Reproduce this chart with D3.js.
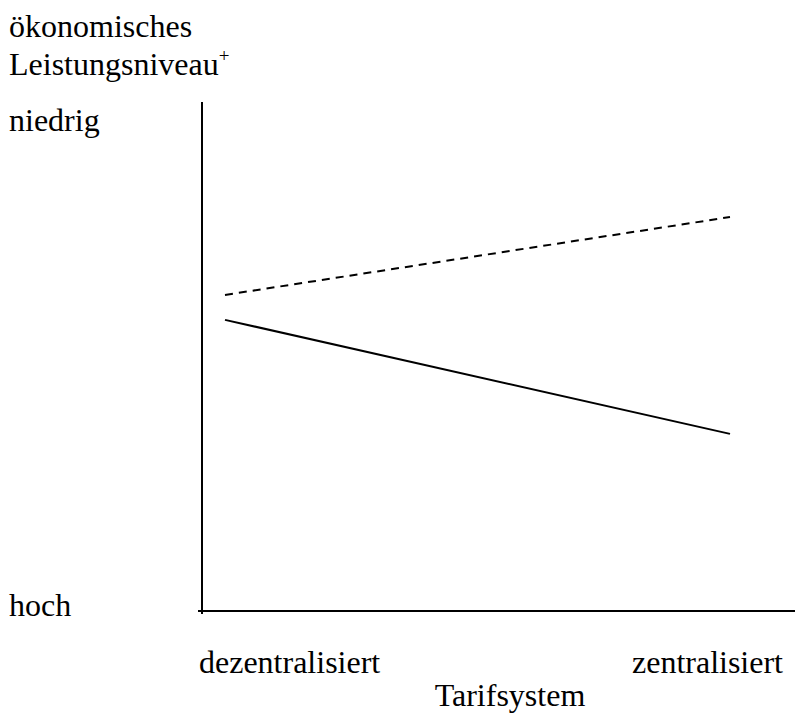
<!DOCTYPE html>
<html><head><meta charset="utf-8">
<script src="https://cdn.jsdelivr.net/npm/d3@7"></script>
<style>body{margin:0;background:#fff}svg{display:block}</style>
</head><body><div id="chart"></div>
<script>
const categories = ["dezentralisiert", "zentralisiert"];
const dashedSeries = [62.1, 77.4];
const solidSeries = [57.2, 34.8];
const yLabels = ["hoch", "niedrig"];
const yTitle = ["ökonomisches", "Leistungsniveau"];
const xTitle = "Tarifsystem";

const W = 795, H = 713;
const FONT = "'Liberation Serif', 'Times New Roman', 'DejaVu Serif', serif";
const svg = d3.select("#chart").append("svg").attr("width", W).attr("height", H)
  .attr("font-family", FONT).style("font-family", FONT);

const x = d3.scaleLinear().domain([0, categories.length - 1]).range([225, 730]);
const y = d3.scaleLinear().domain([0, 100]).range([611, 102]);

// axes
svg.append("line").attr("x1", 202).attr("x2", 202).attr("y1", y(100)).attr("y2", y(0) + 3)
  .attr("stroke", "#000").attr("stroke-width", 2);
svg.append("line").attr("x1", 198).attr("x2", W).attr("y1", y(0)).attr("y2", y(0))
  .attr("stroke", "#000").attr("stroke-width", 2);

const line = d3.line().x((d, i) => x(i)).y(d => y(d));
svg.append("path").datum(dashedSeries).attr("d", line).attr("fill", "none")
  .attr("stroke", "#000").attr("stroke-width", 2).attr("stroke-dasharray", "8,6");
svg.append("path").datum(solidSeries).attr("d", line).attr("fill", "none")
  .attr("stroke", "#000").attr("stroke-width", 2);

const fs = 32;
function txt(xp, yp, s, anchor) {
  return svg.append("text").attr("x", xp).attr("y", yp).attr("font-size", fs)
    .attr("font-family", FONT).style("font-family", FONT)
    .attr("fill", "#000").attr("text-anchor", anchor || "start").text(s);
}
// y title
txt(9, 37, yTitle[0]);
const t2 = txt(9, 75, null);
t2.append("tspan").text(yTitle[1]);
t2.append("tspan").attr("font-size", 19).attr("dy", -13).text("+");
// y labels
txt(9, 131, yLabels[1]);
txt(9, 616, yLabels[0]);
// x labels
txt(199, 673, categories[0]);
txt(783, 673, categories[1], "end");
txt(510, 706, xTitle, "middle");
</script></body></html>
